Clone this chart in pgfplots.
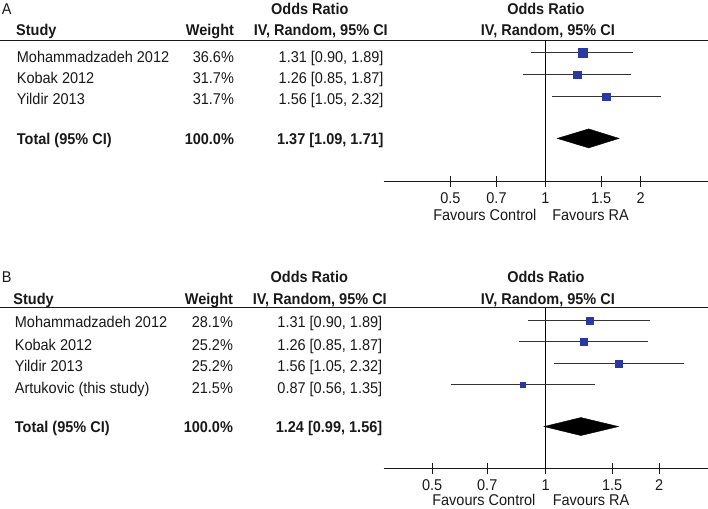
\documentclass[border=0pt]{standalone}
\usepackage{pgfplots}
\pgfplotsset{compat=1.18}
\usepackage{fontspec}
\setmainfont{Liberation Sans}[FakeStretch=0.93]

\definecolor{sqblue}{RGB}{42,57,162}
\definecolor{ink}{RGB}{25,25,25}
\definecolor{ciline}{RGB}{50,50,50}
\newcommand{\fs}{\fontsize{15.6bp}{18bp}\selectfont}

\tikzset{
  ci/.style={ciline, line width=0.9bp},
  study/.style={only marks, mark=square*, mark options={fill=sqblue, draw=sqblue}},
}

\begin{document}
\begin{tikzpicture}
\begin{scope}[x=1bp, y=-1bp, every node/.style={font=\fs, text=ink, inner sep=0pt}]
\useasboundingbox (0,0) rectangle (708,509);

% ---- panel A text
\node[anchor=base west] at (1.7,14.5) {A};
\node[anchor=base] at (310,14.5) {\bfseries Odds Ratio};
\node[anchor=base] at (546.3,14.5) {\bfseries Odds Ratio};
\node[anchor=base west] at (16,35.7) {\bfseries Study};
\node[anchor=base east] at (234.3,35.7) {\bfseries Weight};
\node[anchor=base] at (321,35.7) {\bfseries IV, Random, 95\% CI};
\node[anchor=base] at (548.3,35.7) {\bfseries IV, Random, 95\% CI};
\draw[ink, line width=1bp] (0,40.5) -- (708,40.5);

\node[anchor=base west] at (16.7,62.3) {Mohammadzadeh 2012};
\node[anchor=base east] at (234.3,62.3) {36.6\%};
\node[anchor=base east] at (384,62.3) {1.31 [0.90, 1.89]};
\node[anchor=base west] at (16.7,83.5) {Kobak 2012};
\node[anchor=base east] at (234.3,83.5) {31.7\%};
\node[anchor=base east] at (384,83.5) {1.26 [0.85, 1.87]};
\node[anchor=base west] at (16.7,105) {Yildir 2013};
\node[anchor=base east] at (234.3,105) {31.7\%};
\node[anchor=base east] at (384,105) {1.56 [1.05, 2.32]};
\node[anchor=base west] at (16.7,145) {\bfseries Total (95\% CI)};
\node[anchor=base east] at (234.3,145) {\bfseries 100.0\%};
\node[anchor=base east] at (384,145) {\bfseries 1.37 [1.09, 1.71]};

\node[anchor=base east] at (537,220.7) {Favours Control};
\node[anchor=base west] at (552.5,220.7) {Favours RA};

% ---- panel B text
\node[anchor=base west] at (1.7,282.7) {B};
\node[anchor=base] at (309.5,283) {\bfseries Odds Ratio};
\node[anchor=base] at (546.3,283) {\bfseries Odds Ratio};
\node[anchor=base west] at (13.3,304.5) {\bfseries Study};
\node[anchor=base east] at (233.3,304.5) {\bfseries Weight};
\node[anchor=base] at (320,304.5) {\bfseries IV, Random, 95\% CI};
\node[anchor=base] at (548.3,304.5) {\bfseries IV, Random, 95\% CI};
\draw[ink, line width=1bp] (0,308) -- (708,308);

\node[anchor=base west] at (14.7,328) {Mohammadzadeh 2012};
\node[anchor=base east] at (233.3,328) {28.1\%};
\node[anchor=base east] at (382.7,328) {1.31 [0.90, 1.89]};
\node[anchor=base west] at (14.7,351) {Kobak 2012};
\node[anchor=base east] at (233.3,351) {25.2\%};
\node[anchor=base east] at (382.7,351) {1.26 [0.85, 1.87]};
\node[anchor=base west] at (14.7,371.8) {Yildir 2013};
\node[anchor=base east] at (233.3,371.8) {25.2\%};
\node[anchor=base east] at (382.7,371.8) {1.56 [1.05, 2.32]};
\node[anchor=base west] at (14.7,393.3) {Artukovic (this study)};
\node[anchor=base east] at (233.3,393.3) {21.5\%};
\node[anchor=base east] at (382.7,393.3) {0.87 [0.56, 1.35]};
\node[anchor=base west] at (14.7,433) {\bfseries Total (95\% CI)};
\node[anchor=base east] at (233.3,433) {\bfseries 100.0\%};
\node[anchor=base east] at (382.7,433) {\bfseries 1.24 [0.99, 1.56]};

\node[anchor=base east] at (536,505.5) {Favours Control};
\node[anchor=base west] at (553,505.5) {Favours RA};
\end{scope}

% ---- panel A forest plot
\begin{axis}[at={(384bp,-182bp)}, anchor=south west,
  scale only axis, width=324bp, height=141.5bp, clip=false,
  xmode=log, xmin=0.3077, xmax=3.258, ymin=-6.877, ymax=-0.445,
  axis y line=none, axis x line*=bottom,
  axis line style={ink, line width=1bp},
  xtick={0.5,0.7,1,1.5,2}, xticklabels={0.5,0.7,1,1.5,2},
  minor xtick={}, tick align=center, major tick length=11bp,
  every tick/.style={ink, line width=1bp},
  xticklabel style={font=\fs, text=ink, anchor=base, yshift=-15.8bp}]
\addplot[black, line width=1bp, forget plot] coordinates {(1,-0.445) (1,-6.877)};
\addplot[ci] coordinates {(0.90,-1) (1.89,-1)};
\addplot[ci] coordinates {(0.85,-2) (1.87,-2)};
\addplot[ci] coordinates {(1.05,-3) (2.32,-3)};
\addplot[study, mark size=4.7bp] coordinates {(1.31,-1)};
\addplot[study, mark size=3.9bp] coordinates {(1.26,-2)};
\addplot[study, mark size=3.9bp] coordinates {(1.56,-3)};
\addplot[fill=black, draw=black] coordinates {(1.09,-4.9) (1.37,-4.468) (1.71,-4.9) (1.37,-5.332)} -- cycle;
\end{axis}

% ---- panel B forest plot
\begin{axis}[at={(384bp,-469.3bp)}, anchor=south west,
  scale only axis, width=324bp, height=161.3bp, clip=false,
  xmode=log, xmin=0.372, xmax=2.686, ymin=-7.93, ymax=-0.407,
  axis y line=none, axis x line*=bottom,
  axis line style={ink, line width=1bp},
  xtick={0.5,0.7,1,1.5,2}, xticklabels={0.5,0.7,1,1.5,2},
  minor xtick={}, tick align=center, major tick length=11bp,
  every tick/.style={ink, line width=1bp},
  xticklabel style={font=\fs, text=ink, anchor=base, yshift=-15.8bp}]
\addplot[black, line width=1bp, forget plot] coordinates {(1,-0.407) (1,-7.93)};
\addplot[ci] coordinates {(0.90,-1) (1.89,-1)};
\addplot[ci] coordinates {(0.85,-2) (1.87,-2)};
\addplot[ci] coordinates {(1.05,-3) (2.32,-3)};
\addplot[ci] coordinates {(0.56,-4) (1.35,-4)};
\addplot[study, mark size=3.7bp] coordinates {(1.31,-1)};
\addplot[study, mark size=3.4bp] coordinates {(1.26,-2)};
\addplot[study, mark size=3.4bp] coordinates {(1.56,-3)};
\addplot[study, mark size=2.8bp] coordinates {(0.87,-4)};
\addplot[fill=black, draw=black] coordinates {(0.99,-5.95) (1.24,-5.53) (1.56,-5.95) (1.24,-6.37)} -- cycle;
\end{axis}
\end{tikzpicture}
\end{document}
